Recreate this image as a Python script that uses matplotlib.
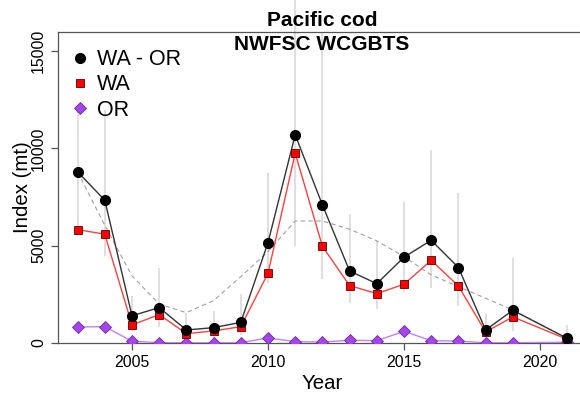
import matplotlib.pyplot as plt
from matplotlib.lines import Line2D

plt.rcParams['font.family'] = ['Liberation Sans', 'DejaVu Sans']

years = [2003, 2004, 2005, 2006, 2007, 2008, 2009, 2010, 2011, 2012,
         2013, 2014, 2015, 2016, 2017, 2018, 2019, 2021]

# WA - OR total index
wa_or = [8800, 7340, 1400, 1820, 670, 790, 1060, 5160, 10700, 7100,
         3700, 3050, 4410, 5280, 3880, 670, 1680, 240]
# interval of the total index
lo = [5860, 4490, 630, 840, 260, 260, 410, 3070, 5000, 3290,
      2040, 1730, 2640, 2810, 1920, 150, 620, 0]
hi = [12100, 12000, 2420, 3840, 1560, 1650, 2520, 8730, 21000, 15950,
      6650, 5250, 7270, 9930, 7730, 1480, 4390, 900]

wa = [5830, 5590, 930, 1460, 480, 620, 840, 3580, 9760, 4970,
      2950, 2540, 3020, 4250, 2930, 570, 1340, 190]
orr = [820, 840, 90, 15, 10, 10, 20, 260, 70, 50,
       140, 120, 600, 120, 100, 10, 15, 40]

# smoothed trend (dashed)
trend = [8800, 6050, 3450, 2000, 1560, 2180, 3410, 4700, 6270, 6270,
         5850, 5250, 4440, 3500, 2900, 2300, 1700, 240]

fig = plt.figure(figsize=(5.8, 3.95), dpi=100)
ax = fig.add_axes([58 / 580, 52 / 395, 528.8 / 580, 311.3 / 395])

ax.vlines(years, lo, hi, color='#dcdcdc', lw=1.3, zorder=1, clip_on=False)
ax.plot(years, trend, color='#a0a0a0', lw=0.8, ls=(0, (4, 3)), zorder=2)

ax.plot(years, orr, color='#c77dff', lw=1, zorder=3)
ax.plot(years, orr, 'D', ms=6.5, mfc='#a445ee', mec='#6a2a99', mew=0.6, zorder=4)
ax.plot(years, wa, color='#ff4040', lw=1, zorder=3)
ax.plot(years, wa, 's', ms=6, mfc='red', mec='#5a0000', mew=0.6, zorder=5)
ax.plot(years, wa_or, color='#333333', lw=1, zorder=3)
ax.plot(years, wa_or, 'o', ms=7, mfc='black', mec='black', zorder=6)

ax.set_xlim(2002.28, 2021.72)
ax.set_ylim(0, 16000)
ax.set_xticks([2005, 2010, 2015, 2020])
ax.set_yticks([0, 5000, 10000, 15000])
ax.tick_params(axis='both', labelsize=11.4, length=5, color='#555555', width=0.9)
for lab in ax.get_yticklabels():
    lab.set_rotation(90)
    lab.set_va('center')

for s in ax.spines.values():
    s.set_color('#555555')
    s.set_linewidth(0.9)

ax.set_xlabel('Year', fontsize=14.7, labelpad=3)
ax.set_ylabel('Index (mt)', fontsize=14.7)
ax.yaxis.set_label_coords(-0.05, 0.5)

handles = [
    Line2D([], [], ls='none', marker='o', ms=7, mfc='black', mec='black'),
    Line2D([], [], ls='none', marker='s', ms=6, mfc='red', mec='#5a0000', mew=0.6),
    Line2D([], [], ls='none', marker='D', ms=6.5, mfc='#a445ee', mec='#6a2a99', mew=0.6),
]
leg = ax.legend(handles, ['WA - OR', 'WA', 'OR'], loc='upper left',
                bbox_to_anchor=(0.0, 0.982), fontsize=15.5, frameon=False,
                handlelength=0.9, handletextpad=0.35, labelspacing=0.2,
                borderpad=0.25, borderaxespad=0.3)
leg.set_zorder(10)

fig.text(322 / 580, 1 - 20 / 395, 'Pacific cod', ha='center', va='center',
         fontsize=15, fontweight='bold')
fig.text(322 / 580, 1 - 44 / 395, 'NWFSC WCGBTS', ha='center', va='center',
         fontsize=15, fontweight='bold', zorder=10)

fig.savefig('out.png', dpi=100)
